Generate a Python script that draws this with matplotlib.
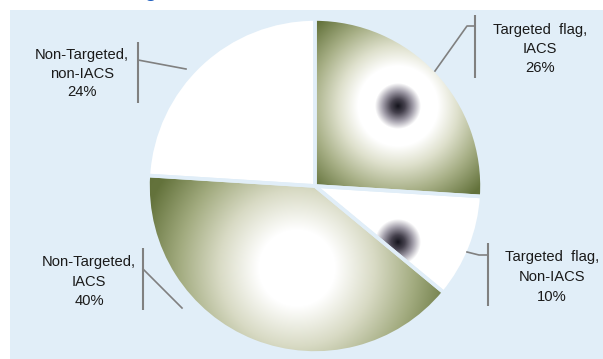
import numpy as np
import matplotlib
matplotlib.use("Agg")
import matplotlib.pyplot as plt
from matplotlib.patches import Rectangle

# ---- data ----
categories = ["Targeted flag, IACS", "Targeted flag, Non-IACS",
              "Non-Targeted, IACS", "Non-Targeted, non-IACS"]
values = [26, 10, 40, 24]
label_lines = [["Targeted  flag,", "IACS", "26%"],
               ["Targeted  flag,", "Non-IACS", "10%"],
               ["Non-Targeted,", "IACS", "40%"],
               ["Non-Targeted,", "non-IACS", "24%"]]

W, H = 603, 359
BG = "#e1eef8"
GREEN = (100, 115, 60)

def Y(p):
    return H - p

plt.rcParams['font.family'] = ['Liberation Sans', 'DejaVu Sans']
fig = plt.figure(figsize=(W / 100, H / 100), dpi=100, facecolor="white")
ax = fig.add_axes([0, 0, 1, 1])
ax.set_xlim(0, W)
ax.set_ylim(0, H)
ax.axis('off')

# background panel
ax.add_patch(Rectangle((10, 0), W - 10, H - 10, facecolor=BG, edgecolor='none', zorder=0))

# partially visible title descender
ax.text(150, Y(-3), "g", color="#1f5fbf", fontsize=14, fontweight='bold',
        ha='center', va='baseline', zorder=1, clip_on=False)

center = (315, Y(186))
radius = 167
wedges, _ = ax.pie(values, startangle=90, counterclock=False, radius=radius,
                   center=center, colors=['white'] * 4,
                   wedgeprops=dict(edgecolor='none'), frame=True)
for w in wedges:
    w.set_zorder(2)

xs = np.arange(W) + 0.5
ys = np.arange(H) + 0.5
XX, YY = np.meshgrid(xs, ys)

def grad_image(cx, cy, stops):
    d = np.hypot(XX - cx, YY - Y(cy))
    pos = [s[0] for s in stops]
    img = np.zeros((H, W, 3))
    for c in range(3):
        img[..., c] = np.interp(d, pos, [s[1][c] / 255 for s in stops])
    return img

dark_spot = [(0, (20, 20, 28)), (7, (70, 66, 78)), (15, (160, 156, 168)),
             (23, (255, 255, 255))]
stops_tr = dark_spot + [(40, (255, 255, 255)), (60, (222, 224, 204)),
                        (85, (168, 176, 135)), (115, GREEN), (250, (88, 102, 48))]
stops_bl = [(0, (255, 255, 255)), (38, (255, 255, 255)), (78, (216, 218, 196)),
            (118, (162, 171, 127)), (160, GREEN), (250, (88, 102, 48))]
stops_sm = dark_spot + [(300, (255, 255, 255))]

for idx, (cx, cy, st) in [(0, (398, 106, stops_tr)), (2, (297, 268, stops_bl)),
                          (1, (398, 242, stops_sm))]:
    img = grad_image(cx, cy, st)
    im = ax.imshow(img, extent=(0, W, 0, H), origin='lower', zorder=3,
                   interpolation='bilinear')
    im.set_clip_path(wedges[idx])

# gaps between slices
edges, _ = ax.pie(values, startangle=90, counterclock=False, radius=radius,
                  center=center, wedgeprops=dict(fill=False, edgecolor=BG, linewidth=2.6),
                  frame=True)
for e in edges:
    e.set_zorder(4)

ax.set_xlim(0, W)
ax.set_ylim(0, H)
ax.axis('off')

# labels (pixel positions of line centres)
label_pos = [(540, [30, 49, 68]), (552, [257, 277, 297]),
             (89, [262, 282, 301]), (82, [55, 74, 92])]
for lines, (lx, lys) in zip(label_lines, label_pos):
    for t, ly in zip(lines, lys):
        ax.text(lx, Y(ly), t, ha='center', va='center', fontsize=10.6,
                color='#1a1a1a', zorder=6)

LC = '#808080'
# leader lines
bars = [(475, 15, 78), (488, 243, 306), (143, 248, 310), (138, 42, 103)]
for bx, y0, y1 in bars:
    ax.plot([bx, bx], [Y(y0), Y(y1)], color=LC, lw=1.5, zorder=6, solid_capstyle='butt')
leaders = [([475, 467, 435], [26, 26, 71]),
           ([488, 479, 467], [255, 255, 252]),
           ([143, 182, ], [269, 308]),
           ([138, 186], [60, 69])]
for lx, ly in leaders:
    ax.plot(lx, [Y(v) for v in ly], color=LC, lw=1.2, zorder=6)

fig.savefig("out.png", dpi=100, facecolor=fig.get_facecolor())
